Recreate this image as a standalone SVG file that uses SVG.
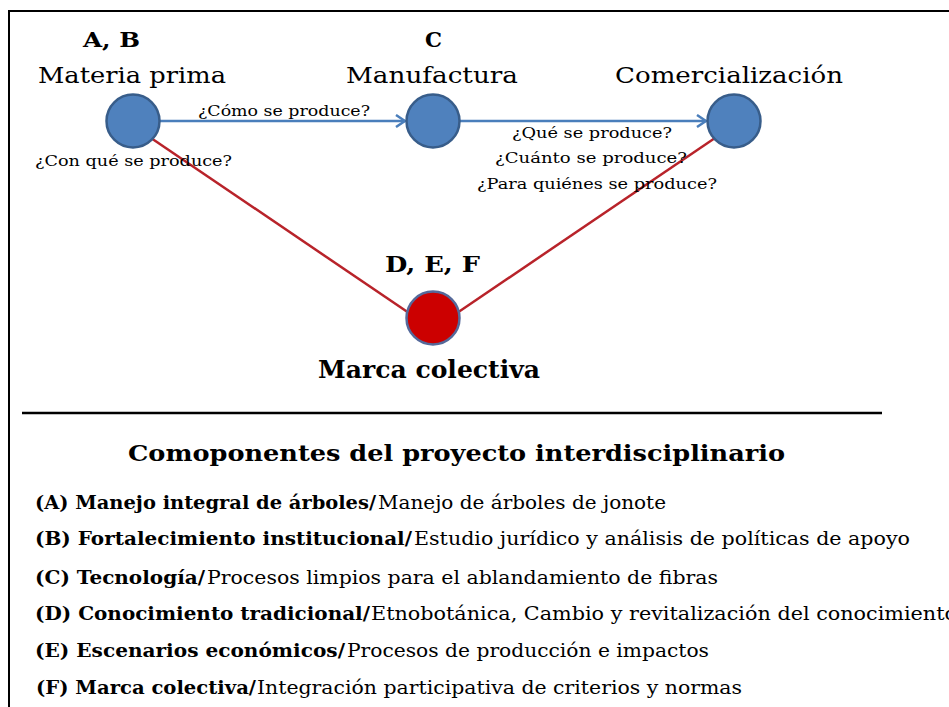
<svg xmlns="http://www.w3.org/2000/svg" width="949" height="707" viewBox="0 0 949 707">
  <style>
    .reg { font-family: "DejaVu Serif", "Liberation Serif", serif; fill: #000; }
    .bld { font-family: "DejaVu Serif", "Liberation Serif", serif; font-weight: bold; fill: #000; }
    .stage { font-size: 23px; }
    .q { font-size: 15.5px; }
    .item { font-size: 19px; }
    .blue { fill: #4F81BD; stroke: #385D8A; stroke-width: 2.5; }
    .red { fill: #CC0000; stroke: #55699A; stroke-width: 2.5; }
    .flow { stroke: #4A7EBB; stroke-width: 2.5; fill: none; }
    .link { stroke: #B8232A; stroke-width: 2.5; fill: none; }
  </style>
  <defs>
    <marker id="arr" viewBox="0 0 12 14" refX="11" refY="7" markerWidth="12" markerHeight="14" markerUnits="userSpaceOnUse" orient="auto">
      <path d="M2,1 L11,7 L2,13" fill="none" stroke="#4A7EBB" stroke-width="2.5"/>
    </marker>
  </defs>
  <rect x="0" y="0" width="949" height="707" fill="#fff"/>
  <rect x="9" y="11" width="980" height="740" fill="none" stroke="#000" stroke-width="2"/>

  <g id="connectors">
    <line class="flow" x1="160" y1="121" x2="405" y2="121" marker-end="url(#arr)"/>
    <line class="flow" x1="460" y1="121" x2="706" y2="121" marker-end="url(#arr)"/>
    <line class="link" x1="151" y1="138" x2="409" y2="313"/>
    <line class="link" x1="715" y1="138" x2="457" y2="313"/>
    <text class="reg q" x="198" y="116" textLength="172" lengthAdjust="spacingAndGlyphs">¿Cómo se produce?</text>
    <text class="reg q" x="35" y="166" textLength="197" lengthAdjust="spacingAndGlyphs">¿Con qué se produce?</text>
    <text class="reg q" x="512" y="138" textLength="160" lengthAdjust="spacingAndGlyphs">¿Qué se produce?</text>
    <text class="reg q" x="495" y="163" textLength="192" lengthAdjust="spacingAndGlyphs">¿Cuánto se produce?</text>
    <text class="reg q" x="477" y="189" textLength="240" lengthAdjust="spacingAndGlyphs">¿Para quiénes se produce?</text>
  </g>

  <g id="node-materia-prima">
    <text class="bld" x="83" y="47" font-size="21" textLength="57" lengthAdjust="spacingAndGlyphs">A, B</text>
    <text class="reg stage" x="38" y="83" textLength="188" lengthAdjust="spacingAndGlyphs">Materia prima</text>
    <circle class="blue" cx="133" cy="121" r="26.5"/>
  </g>

  <g id="node-manufactura">
    <text class="bld" x="425" y="47" font-size="21" textLength="17" lengthAdjust="spacingAndGlyphs">C</text>
    <text class="reg stage" x="346" y="83" textLength="172" lengthAdjust="spacingAndGlyphs">Manufactura</text>
    <circle class="blue" cx="433" cy="121" r="26.5"/>
  </g>

  <g id="node-comercializacion">
    <text class="reg stage" x="615" y="83" textLength="228" lengthAdjust="spacingAndGlyphs">Comercialización</text>
    <circle class="blue" cx="734" cy="121" r="26.5"/>
  </g>

  <g id="node-marca-colectiva">
    <text class="bld" x="385" y="272" font-size="23" textLength="95" lengthAdjust="spacingAndGlyphs">D, E, F</text>
    <circle class="red" cx="433" cy="318" r="26.5"/>
    <text class="bld" x="318" y="378" font-size="24" textLength="222" lengthAdjust="spacingAndGlyphs">Marca colectiva</text>
  </g>

  <g id="legend">
    <line x1="22" y1="413" x2="882" y2="413" stroke="#000" stroke-width="2.5"/>
    <text class="bld" x="128" y="461" font-size="23" textLength="657" lengthAdjust="spacingAndGlyphs">Comoponentes del proyecto interdisciplinario</text>

    <text class="bld item" x="35" y="509" textLength="341" lengthAdjust="spacingAndGlyphs">(A) Manejo integral de árboles/</text>
    <text class="reg item" x="378" y="509" textLength="288" lengthAdjust="spacingAndGlyphs">Manejo de árboles de jonote</text>

    <text class="bld item" x="35" y="545" textLength="377" lengthAdjust="spacingAndGlyphs">(B) Fortalecimiento institucional/</text>
    <text class="reg item" x="414" y="545" textLength="496" lengthAdjust="spacingAndGlyphs">Estudio jurídico y análisis de políticas de apoyo</text>

    <text class="bld item" x="35" y="584" textLength="170" lengthAdjust="spacingAndGlyphs">(C) Tecnología/</text>
    <text class="reg item" x="207" y="584" textLength="511" lengthAdjust="spacingAndGlyphs">Procesos limpios para el ablandamiento de fibras</text>

    <text class="bld item" x="35" y="620" textLength="335" lengthAdjust="spacingAndGlyphs">(D) Conocimiento tradicional/</text>
    <text class="reg item" x="371" y="620" textLength="586" lengthAdjust="spacingAndGlyphs">Etnobotánica, Cambio y revitalización del conocimiento</text>

    <text class="bld item" x="35" y="657" textLength="310" lengthAdjust="spacingAndGlyphs">(E) Escenarios económicos/</text>
    <text class="reg item" x="347" y="657" textLength="362" lengthAdjust="spacingAndGlyphs">Procesos de producción e impactos</text>

    <text class="bld item" x="36" y="694" textLength="220" lengthAdjust="spacingAndGlyphs">(F) Marca colectiva/</text>
    <text class="reg item" x="257" y="694" textLength="485" lengthAdjust="spacingAndGlyphs">Integración participativa de criterios y normas</text>
  </g>
</svg>
